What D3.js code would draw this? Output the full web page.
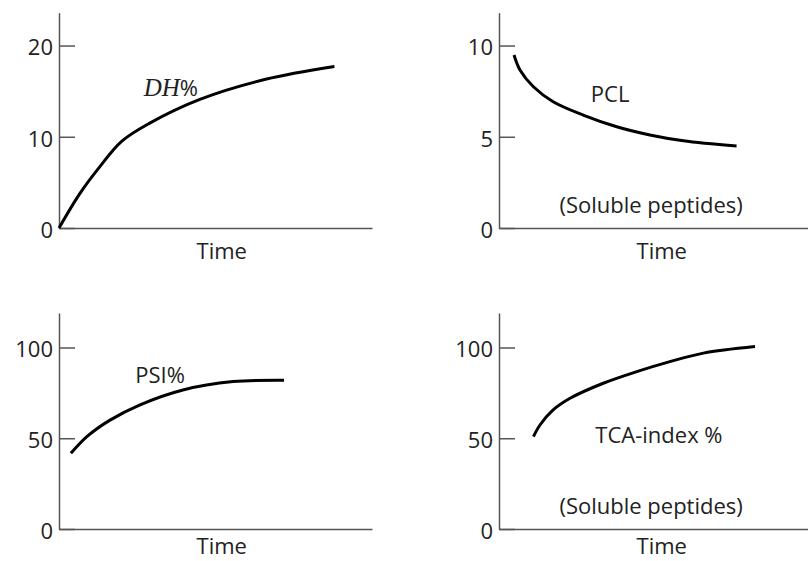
<!DOCTYPE html>
<html>
<head>
<meta charset="utf-8">
<script src="https://cdn.jsdelivr.net/npm/d3@7"></script>
<style>
  body { margin: 0; background: #fff; }
  svg text { font-family: "Open Sans", sans-serif; fill: #222; }
</style>
</head>
<body>
<div id="container"></div>
<script>
"use strict";

// values (time is arbitrary units 0-100)
const dhTime = [0, 6.7, 13, 20, 29, 45, 66, 88];
const dhValues = [0, 3.8, 6.7, 9.5, 11.5, 14.1, 16.3, 17.7];

const pclTime = [4.8, 6.7, 11, 17.3, 26.9, 37.6, 48.2, 58.9, 75.9];
const pclValues = [9.48, 8.66, 7.74, 6.92, 6.19, 5.55, 5.1, 4.78, 4.49];

const psiTime = [3.8, 8.9, 16.3, 25.9, 39.6, 55.6, 71.9];
const psiValues = [41.7, 50.9, 60, 68.4, 76.6, 81.2, 82];

const tcaTime = [11, 13.1, 17.3, 22.7, 33.3, 44, 54.6, 65.3, 81.8];
const tcaValues = [50.9, 57.3, 65.6, 72, 80.3, 86.7, 92.2, 96.9, 100.5];

const dhTicks = [0, 10, 20];
const pclTicks = [0, 5, 10];
const psiTicks = [0, 50, 100];
const tcaTicks = [0, 50, 100];

const xLabel = "Time";
const solubleLabel = "(Soluble peptides)";

// panel layout
const panels = [
	{ left: 59, right: 372, top: 12.7, bottom: 228, yMax: 23.6,
		time: dhTime, values: dhValues, ticks: dhTicks,
		labels: [{ dh: true, x: 44.4, y: 14.5 }] },
	{ left: 499, right: 808, top: 12.7, bottom: 228, yMax: 11.8,
		time: pclTime, values: pclValues, ticks: pclTicks,
		labels: [{ text: "PCL", x: 35.5, y: 6.9 }, { text: solubleLabel, x: 48.6, y: 0.82 }] },
	{ left: 59, right: 372, top: 313, bottom: 529, yMax: 119,
		time: psiTime, values: psiValues, ticks: psiTicks,
		labels: [{ text: "PSI%", x: 32.3, y: 80.5 }] },
	{ left: 499, right: 808, top: 313, bottom: 529, yMax: 119,
		time: tcaTime, values: tcaValues, ticks: tcaTicks,
		labels: [{ text: "TCA-index %", x: 51.1, y: 47.4 }, { text: solubleLabel, x: 48.6, y: 8.3 }] },
];

const svg = d3
	.select("#container")
	.append("svg")
	.attr("width", 808)
	.attr("height", 561);

panels.forEach(function (p) {
	const x = d3.scaleLinear().domain([0, 100]).range([p.left, p.left + 313]);
	const y = d3.scaleLinear().domain([0, p.yMax]).range([p.bottom, p.top]);

	const g = svg.append("g");

	// y axis, ticks point inwards
	const yAxis = g
		.append("g")
		.attr("transform", `translate(${p.left},0)`)
		.call(
			d3.axisLeft(y)
				.tickValues(p.ticks)
				.tickSizeInner(-16)
				.tickSizeOuter(0)
				.tickPadding(6)
				.tickFormat(d3.format("d"))
		);
	yAxis.select(".domain").attr("stroke", "#555").attr("stroke-width", 1.5);
	yAxis.selectAll(".tick line").attr("stroke", "#555").attr("stroke-width", 1.5);
	yAxis.selectAll(".tick text")
		.attr("font-size", 22)
		.attr("font-family", "Open Sans, sans-serif")
		.attr("fill", "#222")
		.attr("dy", "0.42em");

	// x axis, no ticks
	const xAxis = g
		.append("g")
		.attr("transform", `translate(0,${p.bottom})`)
		.call(d3.axisBottom(d3.scaleLinear().range([p.left, p.right])).ticks(0).tickSizeOuter(0));
	xAxis.select(".domain").attr("stroke", "#555").attr("stroke-width", 1.5);

	// keep the lower "Time" inside the page
	g.append("text")
		.attr("x", x(52))
		.attr("y", Math.min(p.bottom + 31, 554))
		.attr("text-anchor", "middle")
		.attr("font-size", 22)
		.text(xLabel);

	// curve
	const pts = p.time.map((t, i) => [t, p.values[i]]);
	g.append("path")
		.datum(pts)
		.attr("fill", "none")
		.attr("stroke", "#000")
		.attr("stroke-width", 3)
		.attr("d", d3.line().x((d) => x(d[0])).y((d) => y(d[1])).curve(d3.curveCatmullRom.alpha(0.5)));

	// labels
	p.labels.forEach(function (l) {
		if (l.dh) {
			const t = g.append("text")
				.attr("x", x(l.x))
				.attr("y", y(l.y))
				.attr("text-anchor", "end")
				.attr("font-size", 22);
			t.append("tspan")
				.attr("font-family", "Liberation Serif, serif")
				.attr("font-style", "italic")
				.attr("font-size", 25)
				.text("DH");
			t.append("tspan").text("%");
		} else {
			g.append("text")
				.attr("x", x(l.x))
				.attr("y", y(l.y))
				.attr("text-anchor", "middle")
				.attr("font-size", 22)
				.text(l.text);
		}
	});
});
</script>
</body>
</html>
